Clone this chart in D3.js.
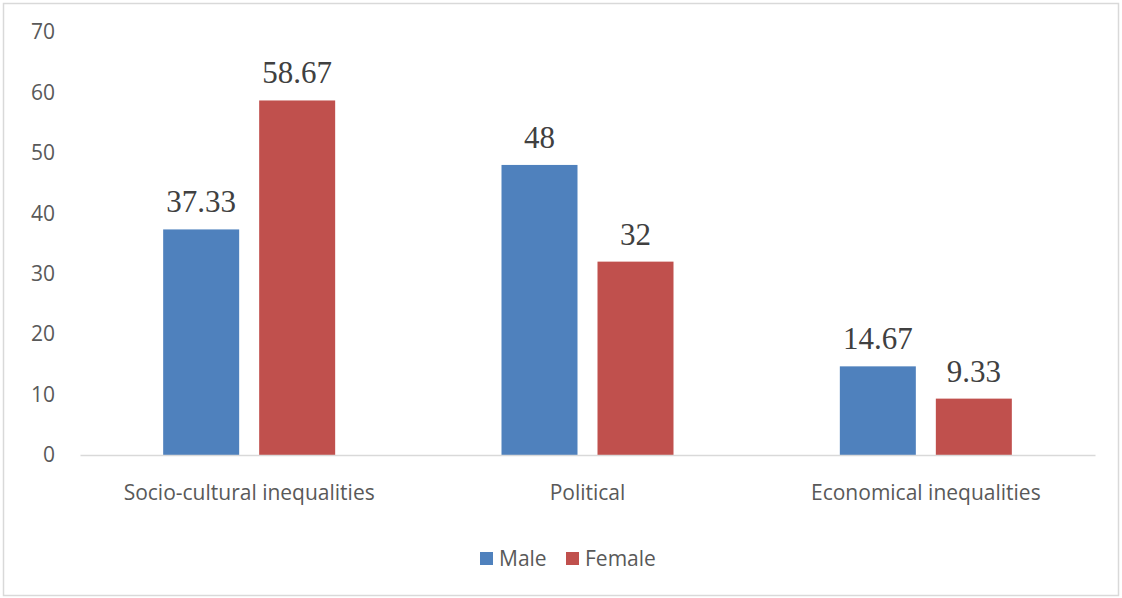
<!DOCTYPE html>
<html>
<head>
<meta charset="utf-8">
<script src="https://cdn.jsdelivr.net/npm/d3@7"></script>
<style>
  body { margin: 0; background: #fff; }
  svg { display: block; }
</style>
</head>
<body>
<svg id="chart"></svg>
<script>
// Data
const categories = ["Socio-cultural inequalities", "Political", "Economical inequalities"];
const seriesNames = ["Male", "Female"];
const male = [37.33, 48, 14.67];
const female = [58.67, 32, 9.33];
const yTicks = [0, 10, 20, 30, 40, 50, 60, 70];
const colors = ["#4f81bd", "#c0504d"];

const W = 1122, H = 598;
const margin = { top: 32, right: 27, bottom: 143, left: 80 },
      width = W - margin.left - margin.right,
      height = H - margin.top - margin.bottom;

const svg = d3.select("#chart").attr("width", W).attr("height", H);

// outer frame
svg.append("rect")
    .attr("x", 3.5).attr("y", 3.5)
    .attr("width", W - 7).attr("height", H - 6)
    .attr("fill", "none")
    .attr("stroke", "#d9d9d9")
    .attr("stroke-width", 1.5);

const g = svg.append("g").attr("transform", `translate(${margin.left},${margin.top})`);

const rows = categories.map((c, i) => ({ cat: c, Male: male[i], Female: female[i] }));

const x0 = d3.scaleBand().domain(categories).range([0, width]).padding(0);
const x1 = d3.scaleBand().domain(seriesNames).range([0, 172]).paddingInner(20 / 96).paddingOuter(0);
const y = d3.scaleLinear().domain([0, 70]).range([height, 0]);
const color = d3.scaleOrdinal().domain(seriesNames).range(colors);

const sans = "'Open Sans', 'Liberation Sans', sans-serif";

// y tick labels
const yAxis = g.append("g")
    .call(d3.axisLeft(y).tickValues(yTicks).tickSize(0).tickPadding(25));
yAxis.select(".domain").remove();
yAxis.selectAll("text")
    .attr("font-family", sans)
    .attr("font-size", 21)
    .attr("fill", "#595959");

// bars
const groups = g.append("g")
    .selectAll("g")
    .data(rows)
    .join("g")
    .attr("transform", d => `translate(${x0(d.cat) + x0.bandwidth() / 2 - 86},0)`);

groups.selectAll("rect")
    .data(d => seriesNames.map(k => ({ key: k, value: d[k] })))
    .join("rect")
    .attr("x", d => x1(d.key))
    .attr("y", d => y(d.value))
    .attr("width", x1.bandwidth())
    .attr("height", d => height - y(d.value))
    .attr("fill", d => color(d.key));

groups.selectAll("text")
    .data(d => seriesNames.map(k => ({ key: k, value: d[k] })))
    .join("text")
    .attr("x", d => x1(d.key) + x1.bandwidth() / 2)
    .attr("y", d => y(d.value) - 17)
    .attr("text-anchor", "middle")
    .attr("font-family", "'Liberation Serif', 'Times New Roman', serif")
    .attr("font-size", 31)
    .attr("fill", "#404040")
    .text(d => d.value);

// x axis
const xAxis = g.append("g")
    .attr("transform", `translate(0,${height})`)
    .call(d3.axisBottom(x0).tickSize(0).tickPadding(30));
xAxis.select(".domain").attr("stroke", "#d9d9d9").attr("stroke-width", 1.5);
xAxis.selectAll("text")
    .attr("font-family", sans)
    .attr("font-size", 21)
    .attr("fill", "#595959");

// legend
const legendX = [480, 566];
const legend = svg.append("g")
    .selectAll("g")
    .data(seriesNames)
    .join("g")
    .attr("transform", (d, i) => `translate(${legendX[i]},552)`);

legend.append("rect")
    .attr("width", 13)
    .attr("height", 13)
    .attr("fill", color);

legend.append("text")
    .attr("x", 19)
    .attr("y", 7)
    .attr("dy", "0.35em")
    .attr("font-family", sans)
    .attr("font-size", 21)
    .attr("fill", "#595959")
    .text(d => d);
</script>
</body>
</html>
